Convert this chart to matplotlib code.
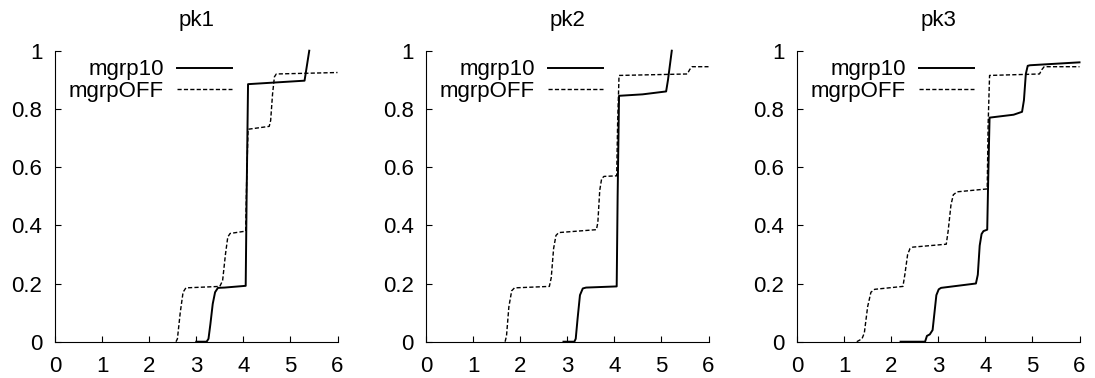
import matplotlib.pyplot as plt
import numpy as np

plt.rcParams['font.family'] = ['Liberation Sans', 'DejaVu Sans']
plt.rcParams['font.size'] = 16

titles = ['pk1', 'pk2', 'pk3']
labels = ['mgrp10', 'mgrpOFF']

# pk1
pk1_on_x = [3.0, 3.22, 3.26, 3.30, 3.35, 3.40, 3.46, 3.6, 4.05, 4.07, 4.10, 4.6, 5.3, 5.4]
pk1_on_y = [0.0, 0.0, 0.01, 0.06, 0.13, 0.17, 0.185, 0.186, 0.192, 0.5, 0.885, 0.89, 0.897, 1.0]
pk1_off_x = [2.57, 2.60, 2.66, 2.72, 2.78, 3.5, 3.56, 3.62, 3.67, 3.72, 4.05, 4.07, 4.10, 4.55, 4.58, 4.62, 4.66, 4.70, 6.0]
pk1_off_y = [0.0, 0.01, 0.10, 0.17, 0.185, 0.19, 0.21, 0.30, 0.36, 0.372, 0.38, 0.55, 0.73, 0.74, 0.76, 0.85, 0.91, 0.92, 0.925]

# pk2
pk2_on_x = [2.92, 3.15, 3.18, 3.22, 3.27, 3.33, 3.40, 4.05, 4.07, 4.10, 4.6, 5.10, 5.14, 5.22]
pk2_on_y = [0.0, 0.0, 0.01, 0.08, 0.16, 0.183, 0.186, 0.19, 0.5, 0.845, 0.85, 0.86, 0.90, 1.0]
pk2_off_x = [1.68, 1.71, 1.76, 1.82, 1.88, 2.62, 2.66, 2.71, 2.76, 2.82, 3.62, 3.65, 3.69, 3.73, 3.78, 4.05, 4.07, 4.10, 5.55, 5.60, 5.65, 6.0]
pk2_off_y = [0.0, 0.02, 0.12, 0.175, 0.185, 0.19, 0.22, 0.32, 0.365, 0.375, 0.385, 0.41, 0.52, 0.56, 0.568, 0.57, 0.75, 0.915, 0.92, 0.935, 0.945, 0.945]

# pk3
pk3_on_x = [2.2, 2.72, 2.76, 2.82, 2.88, 2.92, 2.96, 3.01, 3.06, 3.8, 3.84, 3.88, 3.92, 3.96, 4.04, 4.06, 4.09, 4.6, 4.78, 4.82, 4.86, 4.90, 4.95, 6.0]
pk3_on_y = [0.0, 0.0, 0.02, 0.025, 0.04, 0.10, 0.16, 0.18, 0.185, 0.2, 0.23, 0.33, 0.37, 0.38, 0.385, 0.55, 0.77, 0.78, 0.79, 0.83, 0.92, 0.948, 0.95, 0.96]
pk3_off_x = [1.27, 1.38, 1.43, 1.50, 1.57, 1.65, 2.25, 2.29, 2.35, 2.40, 2.46, 3.17, 3.21, 3.27, 3.32, 3.40, 4.04, 4.06, 4.09, 5.15, 5.20, 5.25, 6.0]
pk3_off_y = [0.0, 0.01, 0.03, 0.12, 0.17, 0.18, 0.19, 0.23, 0.30, 0.32, 0.325, 0.335, 0.38, 0.47, 0.505, 0.515, 0.525, 0.75, 0.915, 0.92, 0.935, 0.945, 0.945]

series = [
    (pk1_on_x, pk1_on_y, pk1_off_x, pk1_off_y),
    (pk2_on_x, pk2_on_y, pk2_off_x, pk2_off_y),
    (pk3_on_x, pk3_on_y, pk3_off_x, pk3_off_y),
]

fig = plt.figure(figsize=(10.95, 3.78), dpi=100)
lefts = [55 / 1095, 426 / 1095, 797 / 1095]
w = 282.5 / 1095
b = (378 - 341.7) / 378
h = (341.7 - 50.7) / 378

for i in range(3):
    ax = fig.add_axes([lefts[i], b, w, h])
    onx, ony, offx, offy = series[i]
    ax.plot(onx, ony, color='black', lw=1.4, label=labels[0], clip_on=False)
    ax.plot(offx, offy, color='black', lw=1.0, dashes=(3, 1.6), label=labels[1], clip_on=False)
    ax.set_xlim(0, 6)
    ax.set_ylim(0, 1)
    ax.set_xticks(range(7))
    ax.set_yticks([0, 0.2, 0.4, 0.6, 0.8, 1])
    ax.set_yticklabels(['0', '0.2', '0.4', '0.6', '0.8', '1'])
    ax.spines['top'].set_visible(False)
    ax.spines['right'].set_visible(False)
    ax.spines['left'].set_linewidth(0.8)
    ax.spines['bottom'].set_linewidth(0.8)
    ax.tick_params(direction='in', length=4, width=0.8, labelsize=16)
    ax.tick_params(axis='x', pad=10)
    ax.tick_params(axis='y', pad=9)
    ax.set_title(titles[i], fontsize=16, pad=18)
    ax.legend(loc='upper right', bbox_to_anchor=(0.625, 0.97), frameon=False,
              markerfirst=False, handlelength=2.45, handletextpad=0.6,
              labelspacing=0.02, borderpad=0, borderaxespad=0, fontsize=16)

fig.savefig('out.png', dpi=100)
